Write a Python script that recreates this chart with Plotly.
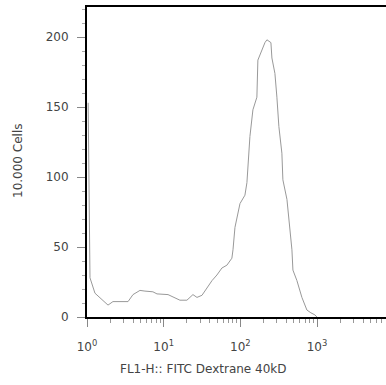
import plotly.graph_objects as go

# FITC fluorescence channel values (log scale) and event counts
fluorescence = [1.035, 1.094, 1.27, 1.476, 1.879, 2.18, 3.43, 3.98, 4.91, 5.70, 7.24, 8.18,
                11.4, 16.3, 20.1, 24.1, 27.2, 31.6, 36.7, 42.7, 49.5, 57.5, 66.8, 77.6,
                80.2, 85.1, 98.9, 114.8, 121.9, 125.6, 133.4, 145.9, 164.4, 169.4, 191.4,
                209.4, 222.3, 250.6, 258.2, 282.5, 299.9, 318.4, 348.3, 358.9, 405.5,
                443.6, 471.0, 485.3, 547.0, 635.3, 737.9, 831.8, 939.7, 997.7]
counts = [153, 28, 17, 13.5, 8.5, 11, 11, 16, 19, 18.5, 18, 16.5,
          16, 12, 12, 16, 14, 15.5, 20.5, 26, 30, 35, 37, 42,
          48, 64, 81, 87, 96, 105, 129, 148, 157, 183.5, 191,
          196, 198, 196, 185, 174, 157, 136, 117, 98, 84,
          60, 48, 33.5, 26, 14, 5, 3, 1.5, 0]

x_tickvals = [1, 10, 100, 1000, 10000]
x_ticktext = ["10<sup>0</sup>", "10<sup>1</sup>", "10<sup>2</sup>", "10<sup>3</sup>", "10<sup>4</sup>"]
x_minor = [m * d for d in [1, 10, 100, 1000] for m in range(2, 10)]
y_tickvals = [0, 50, 100, 150, 200]

x_title = "FL1-H:: FITC Dextrane 40kD"
y_title = "10.000 Cells"

W, H = 386, 385
L, R, T, B = 87, 0, 7, 68
pw, ph = W - L - R, H - T - B

fig = go.Figure()
fig.add_trace(go.Scatter(x=fluorescence, y=counts, mode="lines",
                         line=dict(color="#999999", width=1), hoverinfo="skip"))

tick_font = dict(family="DejaVu Sans", size=12, color="#444444")

fig.update_layout(
    width=W, height=H,
    margin=dict(l=L, r=R, t=T, b=B, autoexpand=False),
    paper_bgcolor="white", plot_bgcolor="white",
    showlegend=False,
    xaxis=dict(type="log", range=[0, 3.9], showgrid=False, zeroline=False,
               showline=True, linecolor="black", linewidth=2, mirror=True,
               tickmode="array", tickvals=x_tickvals, ticktext=x_ticktext,
               ticks="outside", ticklen=8, tickcolor="#888888", tickwidth=1,
               tickfont=tick_font, ticklabelstandoff=10, automargin=False,
               minor=dict(tickmode="array", tickvals=x_minor, ticks="outside",
                          ticklen=4, tickcolor="#999999", tickwidth=1, showgrid=False)),
    yaxis=dict(range=[0, ph / 1.4], showgrid=False, zeroline=False,
               showline=True, linecolor="black", linewidth=2, mirror=False,
               tickmode="array", tickvals=y_tickvals,
               ticks="outside", ticklen=8, tickcolor="#888888", tickwidth=1,
               tickfont=tick_font, ticklabelstandoff=6, automargin=False,
               minor=dict(dtick=10, ticks="outside", ticklen=3,
                          tickcolor="#aaaaaa", tickwidth=1, showgrid=False)),
    annotations=[
        dict(text=x_title, xref="paper", yref="paper",
             x=(203 - L) / pw, y=(H - B - 369) / ph, xanchor="center", yanchor="middle",
             showarrow=False, font=dict(family="DejaVu Sans", size=12, color="#444444")),
        dict(text=y_title, xref="paper", yref="paper",
             x=(18 - L) / pw, y=(H - B - 161) / ph, xanchor="center", yanchor="middle",
             textangle=-90, showarrow=False,
             font=dict(family="DejaVu Sans", size=12, color="#444444")),
    ],
)

fig.write_html(
    "out.html",
    config={"displayModeBar": False},
    post_script="document.body.style.margin='0';document.body.style.overflow='hidden';"
                "document.documentElement.style.overflow='hidden';",
)
